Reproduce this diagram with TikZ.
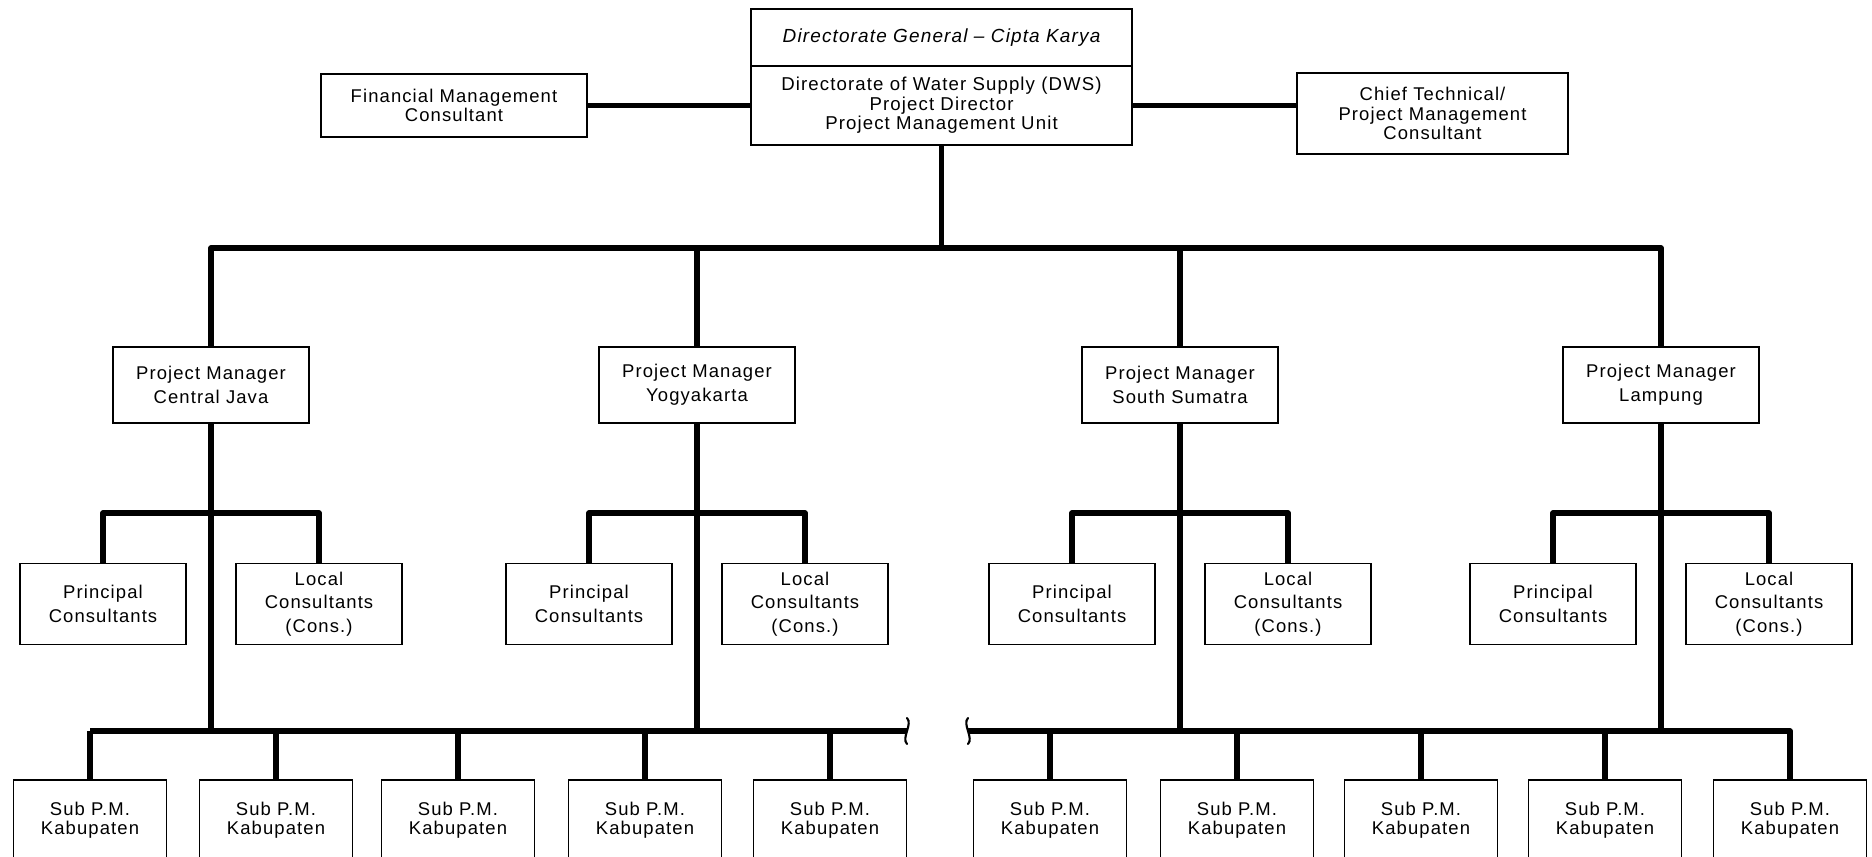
\documentclass[tikz,border=0pt]{standalone}
\usepackage{fontspec}
\setmainfont{Liberation Sans}[LetterSpace=6]
\usetikzlibrary{calc}
\newcommand\pxu{0.02cm}
\tikzset{
  x=0.02cm, y=-0.02cm,
  box/.style={draw, line width=1.1pt, rectangle, align=center, inner sep=0pt},
  bodytext/.style={font=\fontsize{10.5}{13.5}\selectfont},
  tighttext/.style={font=\fontsize{10.5}{11}\selectfont},
  pmbox/.style={box, bodytext, minimum width=196*\pxu, minimum height=76*\pxu},
  consbox/.style={box, bodytext, minimum width=166*\pxu, minimum height=81*\pxu},
  subbox/.style={box, tighttext, minimum width=153*\pxu, minimum height=80*\pxu},
  link/.style={line width=3pt, line join=round},
  breakmark/.style={line width=1.2pt, line cap=round},
}
\begin{document}
\begin{tikzpicture}
\useasboundingbox (0,0) rectangle (1872,857);
\clip (0,0) rectangle (1872,857);

% bus levels
\coordinate (topbus) at (0,248);
\coordinate (cbus) at (0,513);
\coordinate (botbus) at (0,731);
\coordinate (brkL) at (907,731);
\coordinate (brkR) at (968,731);

% head office
\node[box, minimum width=381*\pxu, minimum height=57*\pxu,
      font=\fontsize{10.8}{11}\selectfont\itshape] (dg) at (941.5,37.5)
  {Directorate General -- Cipta Karya};
\node[box, minimum width=381*\pxu, minimum height=79*\pxu,
      font=\fontsize{10.6}{11.2}\selectfont] (dws) at (941.5,105.5)
  {Directorate of Water Supply (DWS)\\Project Director\\Project Management Unit};
\node[box, tighttext, minimum width=266*\pxu, minimum height=63*\pxu] (fmc) at (454,105.5)
  {Financial Management\\Consultant};
\node[box, tighttext, minimum width=271*\pxu, minimum height=81*\pxu] (ctc) at (1432.5,113.5)
  {Chief Technical/\\Project Management\\Consultant};

\draw[link] (fmc.east) -- (fmc.east -| dws.west);
\draw[link] (dws.east) -- (dws.east -| ctc.west);
\draw[link] (dws.south) -- (dws.south |- topbus);

% provincial project managers with their consultants
\foreach \id/\xc/\name in {cj/211/Central Java, yg/697/Yogyakarta, ss/1180/South Sumatra, lp/1661/Lampung}{
  \node[pmbox] (\id) at (\xc,385) {Project Manager\\\name};
  \node[consbox] (\id pc) at (\xc-108,604) {Principal\\Consultants};
  \node[consbox] (\id lc) at (\xc+108,604) {Local\\Consultants\\(Cons.)};
  \draw[link] (\id pc.north) -- (\id pc.north |- cbus) -- (\id lc.north |- cbus) -- (\id lc.north);
  \draw[link] (\id.south) -- (\id.south |- botbus);
}
\draw[link] (cj.north) -- (cj.north |- topbus) -- (lp.north |- topbus) -- (lp.north);
\draw[link] (yg.north) -- (yg.north |- topbus);
\draw[link] (ss.north) -- (ss.north |- topbus);

% sub project managers
\foreach \i/\xc in {1/90, 2/276, 3/458, 4/645, 5/830, 6/1050, 7/1237, 8/1421, 9/1605, 10/1790}{
  \node[subbox] (s\i) at (\xc,820) {Sub P.M.\\Kabupaten};
  \draw[link] (s\i.north) -- (s\i.north |- botbus);
}
\draw[link] (s1.north |- botbus) -- (brkL);
\draw[link] (brkR) -- (s10.north |- botbus) -- (s10.north);

% break marks on the lower bus
\draw[breakmark] ($(brkL)+(0,-13)$) .. controls +(6,6) and +(-6,-6) .. ($(brkL)+(0,13)$);
\draw[breakmark] ($(brkR)+(0,-13)$) .. controls +(-6,6) and +(6,-6) .. ($(brkR)+(0,13)$);
\end{tikzpicture}
\end{document}
